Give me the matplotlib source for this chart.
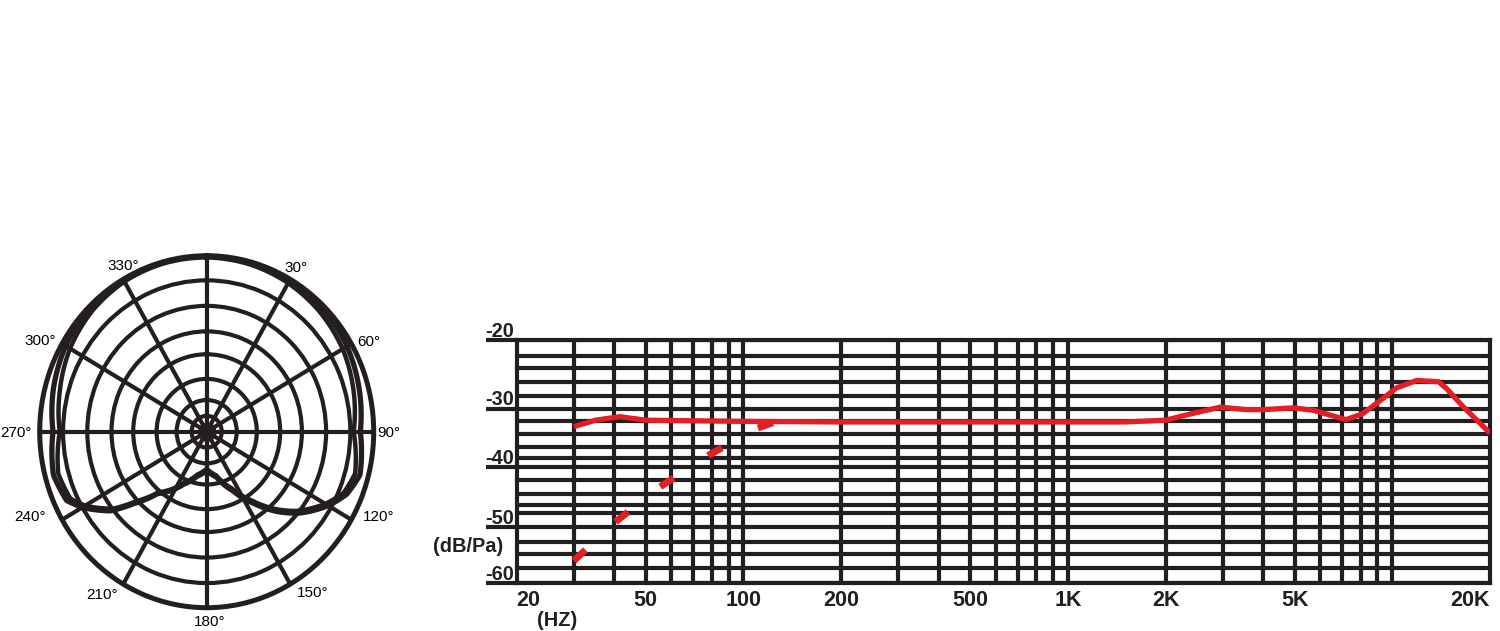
import numpy as np
import matplotlib
matplotlib.use("Agg")
import matplotlib.pyplot as plt
from matplotlib.transforms import blended_transform_factory, offset_copy

# ---------------- data ----------------
# polar pattern
polar_angles_deg = [0, 15, 30, 45, 60, 75, 90, 105, 113, 120, 130, 137, 145, 155, 167, 180,
                    193, 205, 213, 220, 227, 232, 240, 245, 255, 270, 285, 300, 315, 330, 345, 360]
polar_r_outer = [1.0, 1.0, 0.995, 0.985, 0.97, 0.945, 0.92, 0.95, 0.91, 0.84, 0.72, 0.62, 0.50, 0.37, 0.265, 0.22,
                 0.26, 0.33, 0.40, 0.46, 0.60, 0.73, 0.86, 0.925, 0.95, 0.92, 0.95, 0.975, 0.99, 1.0, 1.0, 1.0]
polar_r_inner = [0.99, 0.985, 0.975, 0.96, 0.94, 0.91, 0.88, 0.92, 0.89, 0.82, 0.70, 0.60, 0.48, 0.355, 0.255, 0.21,
                 0.25, 0.32, 0.39, 0.45, 0.58, 0.71, 0.84, 0.90, 0.92, 0.88, 0.91, 0.945, 0.97, 0.985, 0.99, 0.99]
polar_ring_radii = [0.09, 0.18, 0.30, 0.44, 0.57, 0.715, 0.86]
polar_spoke_angles = [0, 30, 60, 90, 120, 150, 180, 210, 240, 270, 300, 330]
polar_labels = ["30°", "60°", "90°", "120°", "150°", "180°", "210°", "240°", "270°", "300°", "330°"]

# frequency response
resp_freq = [30, 35, 41.6, 50, 70, 100, 200, 500, 1000, 1500, 2000, 2400, 2950, 3550, 4000, 4950,
             5700, 6400, 7200, 8100, 9200, 10300, 11900, 13900, 14700, 16500, 20000]
resp_db = [-33.1, -32.0, -31.4, -32.0, -32.1, -32.2, -32.3, -32.3, -32.3, -32.3, -32.0, -30.9, -29.8, -30.2,
           -30.2, -29.9, -30.3, -31.1, -31.9, -30.9, -28.8, -27.0, -25.9, -26.1, -27.1, -29.7, -34.2]
lowcut_freq = [30, 40, 55, 78, 110, 125]
lowcut_db = [-56.1, -49.3, -43.4, -38.0, -33.4, -32.3]

x_tick_freqs = [20, 50, 100, 200, 500, 1000, 2000, 5000, 20000]
x_tick_labels = ["20", "50", "100", "200", "500", "1K", "2K", "5K", "20K"]
v_grid_freqs = [30, 40, 50, 60, 70, 80, 90, 100, 200, 300, 400, 500, 600, 700, 800, 900,
                1000, 2000, 3000, 4000, 5000, 6000, 7000, 8000, 9000, 10000]
y_major = [-20, -30, -40, -50, -60]
h_grid_db = [-22.3, -24.1, -26.1, -28.2, -32.1, -34.4, -36.6, -38.4,
             -42.1, -44.5, -46.3, -47.6, -52.7, -54.9, -57.4]

# ---------------- style / layout ----------------
INK = "#231f20"
RED = "#e31e24"
W, H = 1500, 631
GRID_LW = 3.0
# label centres of the polar angle labels (pixels, top-left origin), same order as polar_labels
polar_label_px = [(296, 268), (368.5, 342), (389, 433), (378.5, 517), (312.7, 593), (210, 622),
                  (101.7, 595), (30, 517), (16, 433), (40, 341), (123.5, 266)]

fig = plt.figure(figsize=(W / 100, H / 100), dpi=100)
fig.patch.set_facecolor("white")

# ---------------- polar chart ----------------
cx, cy, rx, ry = 206.7, 431.7, 167, 176
axp = fig.add_axes([(cx - rx) / W, 1 - (cy + ry) / H, 2 * rx / W, 2 * ry / H], projection="polar")
axp.set_aspect("auto")
axp.set_theta_zero_location("N")
axp.set_theta_direction(-1)
axp.set_ylim(0, 1)
axp.set_rgrids(polar_ring_radii, labels=[""] * len(polar_ring_radii))
axp.set_thetagrids(polar_spoke_angles, labels=[""] * len(polar_spoke_angles))
axp.grid(True, color=INK, lw=GRID_LW)
axp.spines["polar"].set_color(INK)
axp.spines["polar"].set_linewidth(GRID_LW + 0.6)
axp.tick_params(axis="x", length=0)
th = np.deg2rad(np.linspace(0, 360, 361))
axp.fill_between(th, 0, 0.055, color=INK, lw=0)
for rr, lw in ((polar_r_outer, 3.8), (polar_r_inner, 3.2)):
    ln, = axp.plot(np.deg2rad(polar_angles_deg), rr, color=INK, lw=lw, solid_joinstyle="round")
    ln.get_path()._interpolation_steps = 30
for lab, (px, py) in zip(polar_labels, polar_label_px):
    fig.text(px / W, 1 - py / H, lab, ha="center", va="center", fontsize=11,
             fontfamily="Liberation Sans", color="black")

# ---------------- frequency response chart ----------------
left, right, top, bot = 516.7, 1490, 340, 582.5
ax = fig.add_axes([left / W, 1 - bot / H, (right - left) / W, (bot - top) / H])
ypix = [0, 55.5, 115.5, 174, 242.5]
ydb = sorted(y_major)
ax.set_yscale("function", functions=(lambda v: np.interp(v, ydb, ypix),
                                     lambda p: np.interp(p, ypix, ydb)))
ax.set_xscale("log")
ax.set_xlim(20, 20000)
ax.set_ylim(-60, -20)
for f in v_grid_freqs:
    ax.axvline(f, color=INK, lw=GRID_LW, zorder=1)
for d in h_grid_db + y_major:
    ax.axhline(d, color=INK, lw=GRID_LW, zorder=1)
for s in ax.spines.values():
    s.set_color(INK)
    s.set_linewidth(GRID_LW)

ax.set_yticks(y_major)
ax.set_yticks([], minor=True)
ax.tick_params(axis="y", which="major", direction="out", length=22, width=GRID_LW,
               color=INK, labelleft=False)
trans = blended_transform_factory(ax.transAxes, ax.transData)
for v in y_major:
    ax.text(0, v, f"{v}", transform=offset_copy(trans, fig=fig, x=-3, y=3, units="dots"),
            ha="right", va="baseline", fontsize=14.4, fontweight="bold",
            fontfamily="Liberation Sans", color=INK)

ax.set_xticks(x_tick_freqs)
ax.set_xticks([], minor=True)
ax.set_xticklabels(x_tick_labels)
ax.tick_params(axis="x", which="major", length=0, pad=5.5, labelsize=15.5, labelcolor=INK)
for i, t in enumerate(ax.get_xticklabels()):
    t.set_fontweight("bold")
    t.set_fontfamily("Liberation Sans")
    if i == 0:
        t.set_ha("left")
    elif i == len(x_tick_labels) - 1:
        t.set_ha("right")

ax.plot(resp_freq, resp_db, color=RED, lw=3.8, solid_joinstyle="round", solid_capstyle="butt", zorder=3)
ln, = ax.plot(lowcut_freq, lowcut_db, color=RED, lw=5.0, zorder=3, dash_capstyle="butt")
ln.set_dashes((16 * 0.72 / 5.0, 41 * 0.72 / 5.0))

fig.text(468 / W, 1 - 546.7 / H, "(dB/Pa)", ha="center", va="center", fontsize=14.4,
         fontweight="bold", fontfamily="Liberation Sans", color=INK)
fig.text(556.7 / W, 1 - 620 / H, "(HZ)", ha="center", va="center", fontsize=14.4,
         fontweight="bold", fontfamily="Liberation Sans", color=INK)

fig.savefig("out.png", dpi=100, facecolor="white")
